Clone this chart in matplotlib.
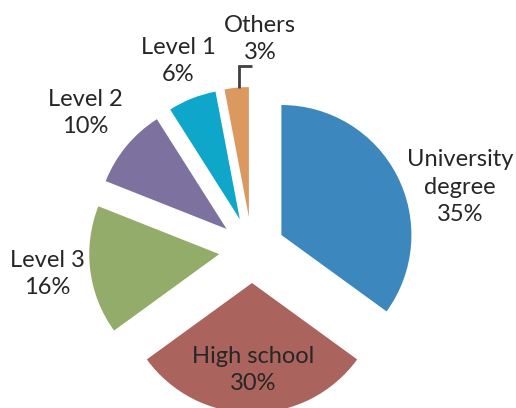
import matplotlib
matplotlib.use("Agg")
import matplotlib.pyplot as plt

categories = ["University\ndegree", "High school", "Level 3", "Level 2", "Level 1", "Others"]
values = [35, 30, 16, 10, 6, 3]
colors = ["#3c87be", "#ab635d", "#94ac6a", "#7d71a0", "#0ea6c9", "#db995f"]

W, H = 516, 408
fig = plt.figure(figsize=(W / 100, H / 100), dpi=100)
ax = fig.add_axes([0, 0, 1, 1])

cx, cy = 252, H - 250
R = 130
wedges, _ = ax.pie(values, colors=colors, startangle=90, counterclock=False,
                   radius=R, center=(cx, cy), explode=[33] * len(values),
                   wedgeprops=dict(linewidth=0), frame=True)
ax.set_xlim(0, W)
ax.set_ylim(0, H)
ax.set_aspect("equal")
ax.axis("off")

tc = "#262626"
fs = 17
fam = ["Lato", "DejaVu Sans"]
label_pos = [(460, 187), (253, 370), (47, 274), (85, 113), (178, 61), (260, 39)]
for cat, v, (x, y) in zip(categories, values, label_pos):
    ax.text(x, H - y, f"{cat}\n{v}%", ha="center", va="center", fontsize=fs,
            color=tc, family=fam, linespacing=1.38)

# leader line for Others
ax.plot([239, 239, 252], [H - 88, H - 66, H - 66], color="#404040", lw=2,
        solid_capstyle="butt", solid_joinstyle="miter")

fig.savefig("out.png", dpi=100)
